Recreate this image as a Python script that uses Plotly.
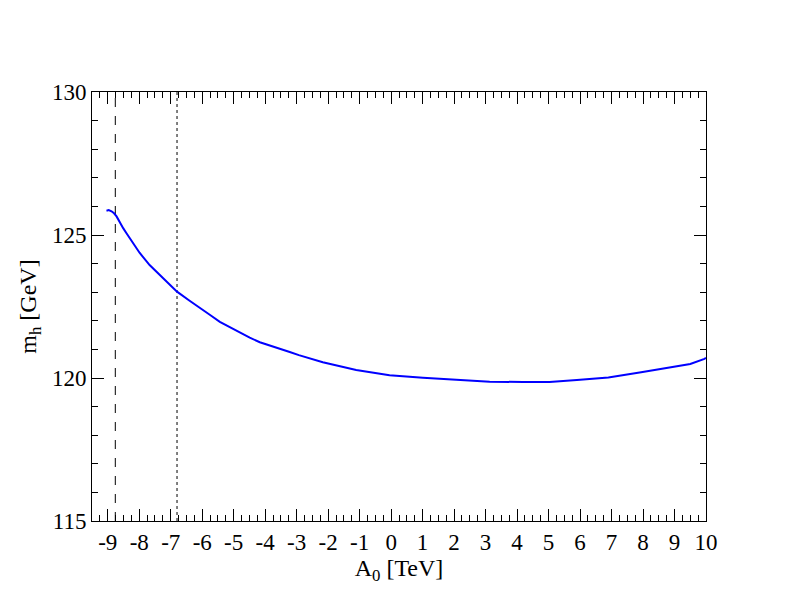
import plotly.graph_objects as go

# Data
a0_tev = [-9.04, -8.97, -8.88, -8.80, -8.72, -8.62, -8.51, -8.41, -8.20, -7.99,
          -7.67, -7.35, -7.03, -6.80, -6.40, -6.08, -5.76, -5.44, -5.12, -4.81,
          -4.49, -4.17, -3.86, -3.54, -3.22, -2.93, -2.17, -1.11, -0.05, 1.01,
          2.07, 3.13, 4.19, 5.03, 5.90, 6.90, 7.94, 8.93, 9.50, 9.95, 10.0]
mh_gev = [125.85, 125.87, 125.83, 125.76, 125.65, 125.44, 125.24, 125.07, 124.74, 124.38,
          123.95, 123.60, 123.25, 123.02, 122.70, 122.44, 122.21, 121.96, 121.77, 121.58,
          121.41, 121.25, 121.13, 121.01, 120.91, 120.80, 120.55, 120.28, 120.10, 120.01,
          119.93, 119.87, 119.86, 119.86, 119.93, 120.02, 120.20, 120.40, 120.49, 120.67, 120.70]

dashed_x = -8.76
dotted_x = -6.80

x_tick_vals = list(range(-9, 11))
x_tick_text = [str(v) for v in x_tick_vals]
y_tick_vals = [115, 120, 125, 130]
y_tick_text = [str(v) for v in y_tick_vals]

font_family = "Liberation Serif, Times New Roman, serif"

fig = go.Figure()
fig.add_trace(go.Scatter(x=[dashed_x, dashed_x], y=[115, 130], mode="lines",
                         line=dict(color="black", width=1, dash="dash"), showlegend=False,
                         hoverinfo="skip"))
fig.add_trace(go.Scatter(x=[dotted_x, dotted_x], y=[115, 130], mode="lines",
                         line=dict(color="black", width=1, dash="dot"), showlegend=False,
                         hoverinfo="skip"))
fig.add_trace(go.Scatter(x=a0_tev, y=mh_gev, mode="lines",
                         line=dict(color="#0000ff", width=2),
                         showlegend=False))

axis_common = dict(showline=True, linecolor="black", linewidth=1, mirror="ticks",
                   ticks="inside", ticklen=12, tickwidth=1, tickcolor="black",
                   showgrid=False, zeroline=False,
                   tickfont=dict(family=font_family, size=23, color="black"))

fig.update_xaxes(range=[-9.5, 10], tickmode="array", tickvals=x_tick_vals, ticktext=x_tick_text,
                 minor=dict(dtick=0.25, ticks="inside", ticklen=6, tickcolor="black", showgrid=False),
                 title=dict(text="A<sub>0</sub> [TeV]", font=dict(family=font_family, size=24, color="black"),
                            standoff=0),
                 **axis_common)
fig.update_yaxes(range=[115, 130], tickmode="array", tickvals=y_tick_vals, ticktext=y_tick_text,
                 minor=dict(dtick=1, ticks="inside", ticklen=6, tickcolor="black", showgrid=False),
                 title=dict(text="m<sub>h</sub> [GeV]", font=dict(family=font_family, size=24, color="black"),
                            standoff=8),
                 **axis_common)

fig.update_layout(width=792, height=612, paper_bgcolor="white", plot_bgcolor="white",
                  margin=dict(l=84, r=94, t=84, b=99, autoexpand=False), showlegend=False)

fig.write_html("out.html")
